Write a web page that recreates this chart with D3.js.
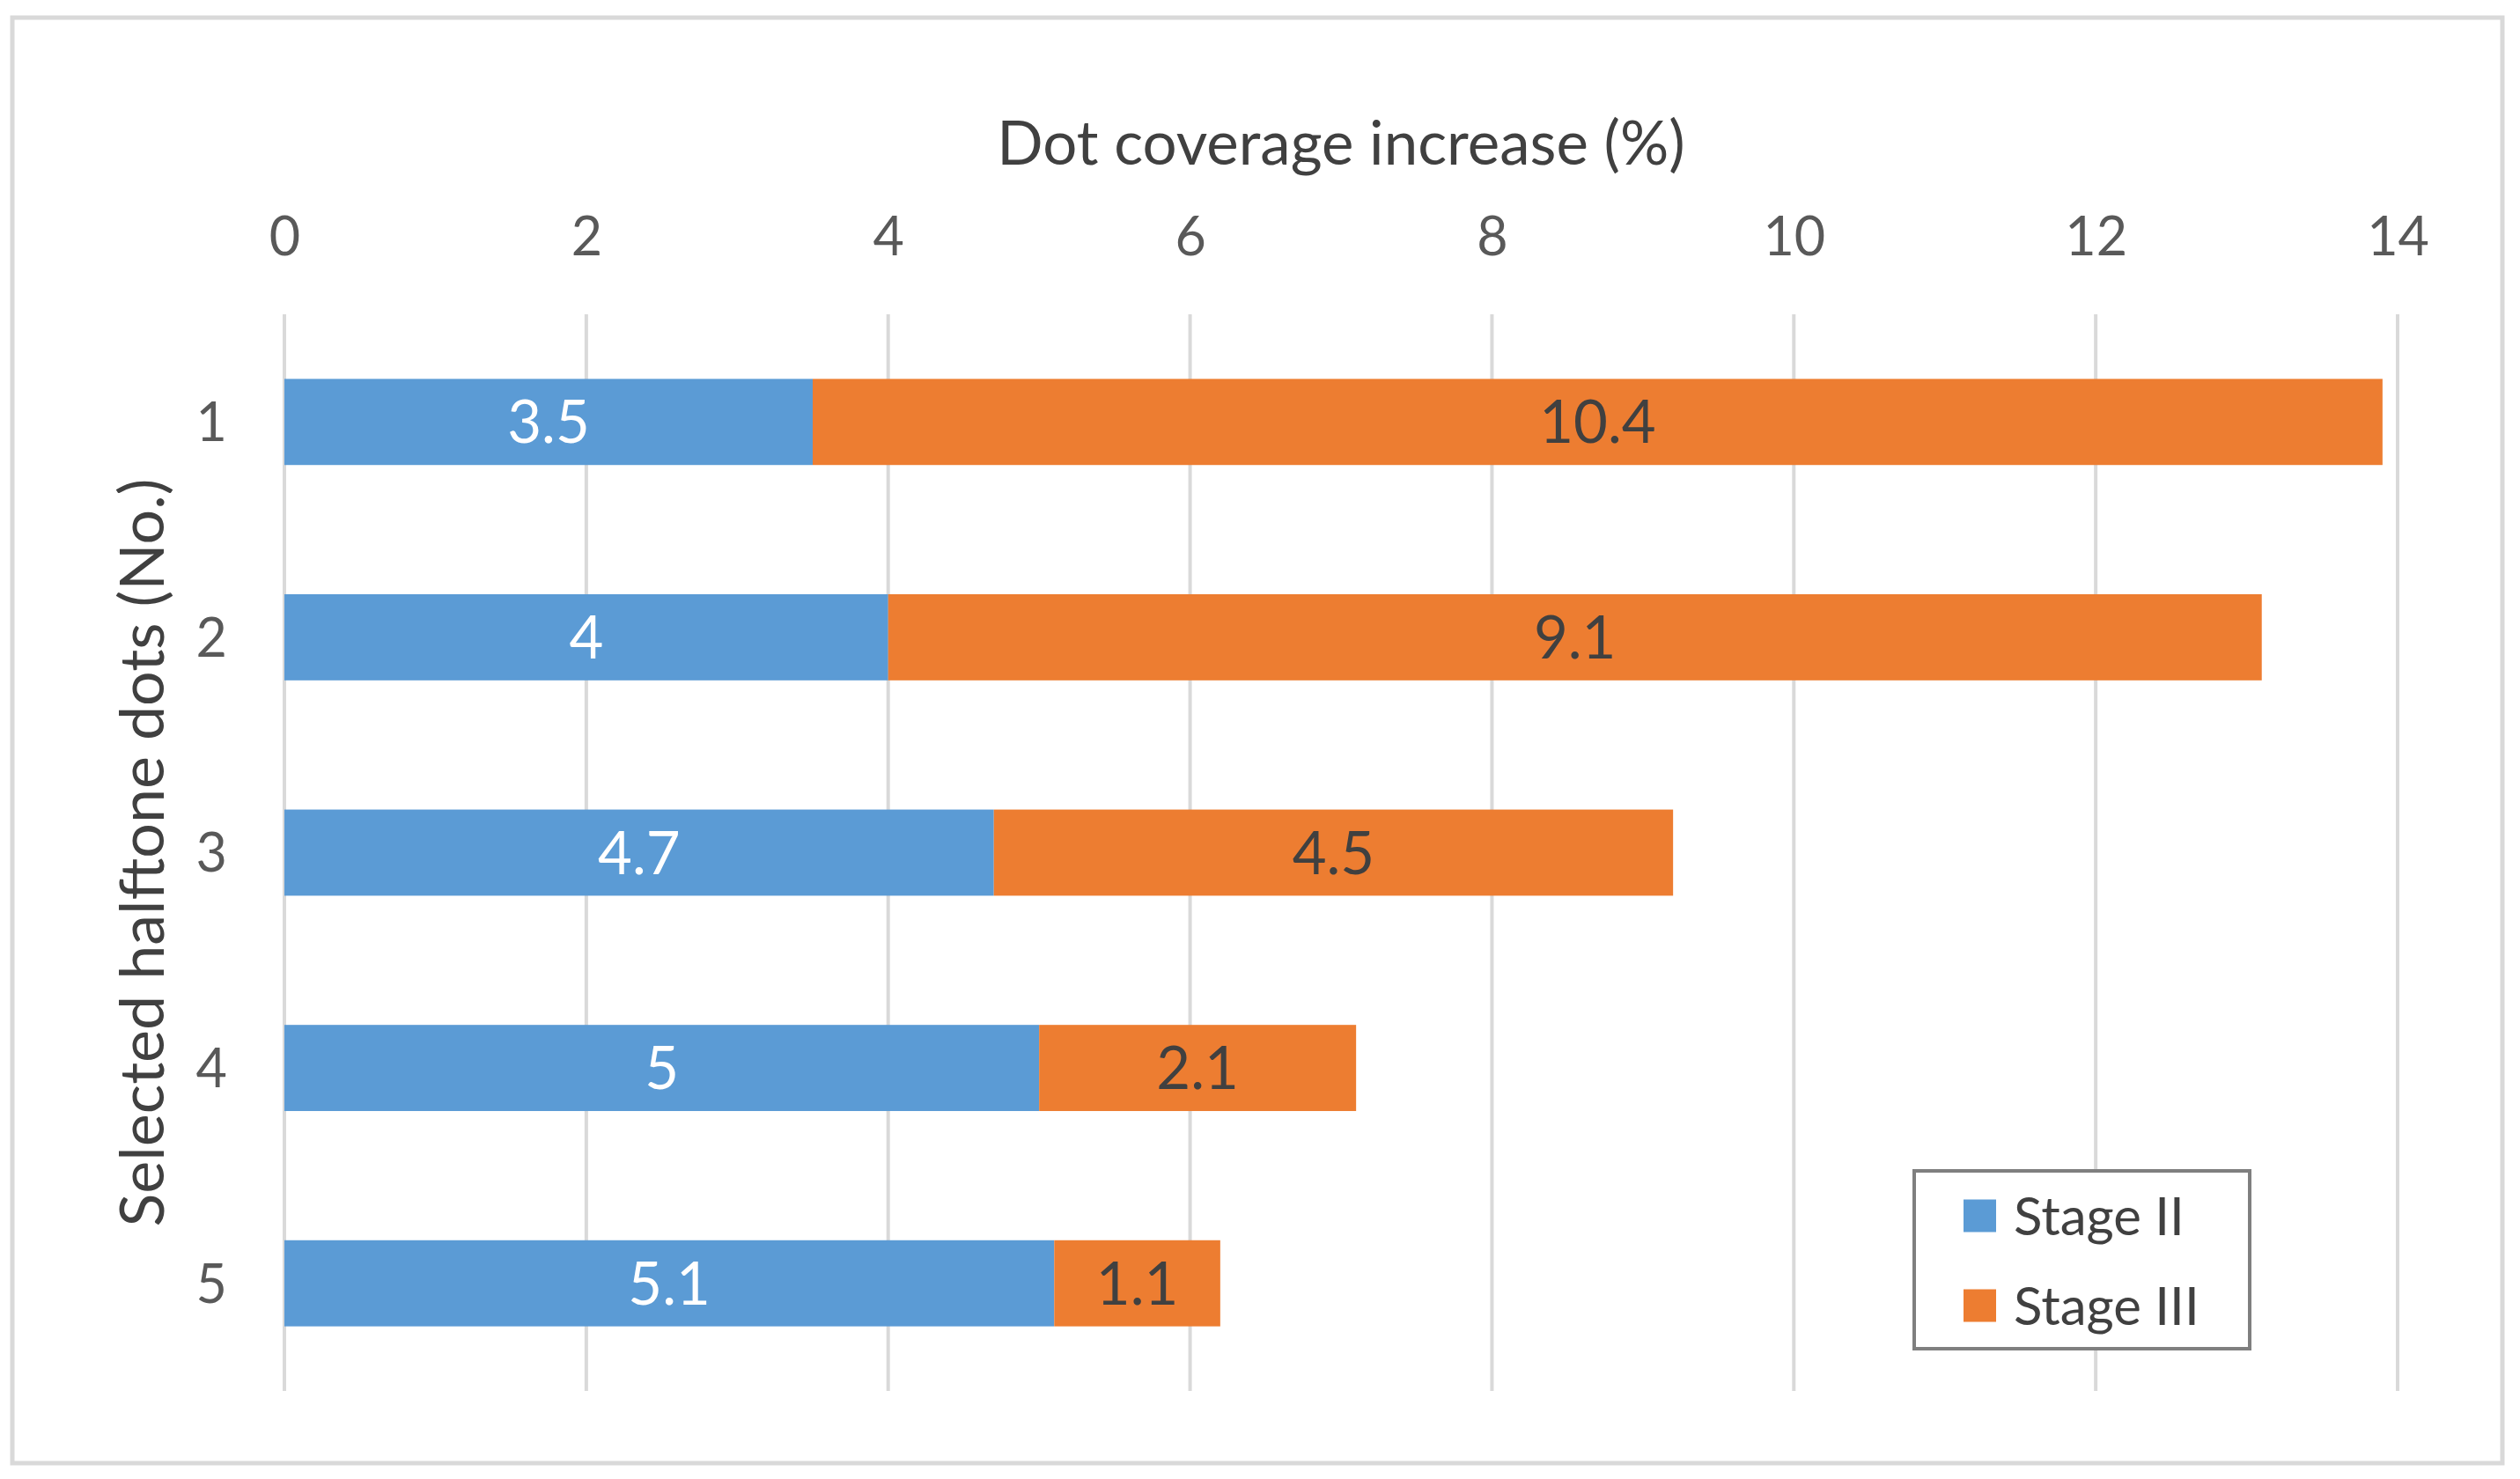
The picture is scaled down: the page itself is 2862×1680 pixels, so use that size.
<!DOCTYPE html>
<html>
<head>
<meta charset="utf-8">
<script src="https://cdn.jsdelivr.net/npm/d3@7"></script>
<style>
  body { margin: 0; background: #fff; }
  text { font-family: Lato, "Open Sans", sans-serif; }
</style>
</head>
<body>
<div id="chart"></div>
<script>
  // chart data
  const categories = ["1", "2", "3", "4", "5"];
  const seriesNames = ["Stage II", "Stage III"];
  const stage2 = [3.5, 4, 4.7, 5, 5.1];
  const stage3 = [10.4, 9.1, 4.5, 2.1, 1.1];
  const xTicks = [0, 2, 4, 6, 8, 10, 12, 14];

  const colors = ["#5B9BD5", "#ED7D31"];
  const labelColors = ["#ffffff", "#404040"];

  const svgWidth = 2862;
  const svgHeight = 1680;
  const plot = { left: 323, right: 2723, top: 357, bottom: 1580 };

  const svg = d3.select("#chart")
    .append("svg")
    .attr("width", svgWidth)
    .attr("height", svgHeight);

  // outer frame
  svg.append("rect")
    .attr("x", 14)
    .attr("y", 20)
    .attr("width", 2828)
    .attr("height", 1642)
    .attr("fill", "#fff")
    .attr("stroke", "#d9d9d9")
    .attr("stroke-width", 5);

  // scales
  const xScale = d3.scaleLinear()
    .domain([0, 14])
    .range([plot.left, plot.right]);

  const yScale = d3.scaleBand()
    .domain(categories)
    .range([plot.top, plot.bottom])
    .paddingInner(0.6)
    .paddingOuter(0.3);

  // gridlines
  svg.append("g")
    .selectAll("line")
    .data(xTicks)
    .enter()
    .append("line")
    .attr("x1", d => xScale(d))
    .attr("x2", d => xScale(d))
    .attr("y1", plot.top)
    .attr("y2", plot.bottom)
    .attr("stroke", "#d9d9d9")
    .attr("stroke-width", 4);

  // x axis on top
  const xAxis = svg.append("g")
    .attr("transform", "translate(0, 290)")
    .call(d3.axisTop(xScale).tickValues(xTicks).tickSize(0).tickPadding(0));
  xAxis.select(".domain").remove();
  xAxis.selectAll("text")
    .style("font-size", "61px")
    .style("fill", "#595959")
    .attr("dy", 0);

  // y axis (categories)
  const yAxis = svg.append("g")
    .attr("transform", "translate(258, 0)")
    .call(d3.axisLeft(yScale).tickSize(0).tickPadding(0));
  yAxis.select(".domain").remove();
  yAxis.selectAll("text")
    .style("font-size", "61px")
    .style("fill", "#595959")
    .attr("dy", "0.36em");

  // stacked bars
  const table = categories.map((c, i) => ({ cat: c, "Stage II": stage2[i], "Stage III": stage3[i] }));
  const stacked = d3.stack().keys(seriesNames)(table);

  const layers = svg.append("g")
    .selectAll("g")
    .data(stacked)
    .enter()
    .append("g")
    .attr("fill", (d, i) => colors[i]);

  layers.selectAll("rect")
    .data(d => d)
    .enter()
    .append("rect")
    .attr("x", d => xScale(d[0]))
    .attr("y", d => yScale(d.data.cat))
    .attr("width", d => xScale(d[1]) - xScale(d[0]))
    .attr("height", yScale.bandwidth());

  // data labels
  stacked.forEach((layer, i) => {
    svg.append("g")
      .selectAll("text")
      .data(layer)
      .enter()
      .append("text")
      .attr("x", d => (xScale(d[0]) + xScale(d[1])) / 2)
      .attr("y", d => yScale(d.data.cat) + yScale.bandwidth() / 2)
      .attr("dy", "0.36em")
      .attr("text-anchor", "middle")
      .style("font-size", "67px")
      .style("fill", labelColors[i])
      .text(d => +(d[1] - d[0]).toFixed(1));
  });

  // axis titles
  svg.append("text")
    .attr("x", (plot.left + plot.right) / 2)
    .attr("y", 187)
    .attr("text-anchor", "middle")
    .style("font-size", "69px")
    .style("fill", "#404040")
    .text("Dot coverage increase (%)");

  svg.append("text")
    .attr("transform", `translate(186, ${(plot.top + plot.bottom) / 2}) rotate(-90)`)
    .attr("text-anchor", "middle")
    .style("font-size", "70px")
    .style("fill", "#404040")
    .text("Selected halftone dots (No.)");

  // legend
  const legend = svg.append("g");
  legend.append("rect")
    .attr("x", 2174)
    .attr("y", 1330)
    .attr("width", 381)
    .attr("height", 202)
    .attr("fill", "#fff")
    .attr("stroke", "#7f7f7f")
    .attr("stroke-width", 4);

  const items = legend.selectAll("g.item")
    .data(seriesNames)
    .enter()
    .append("g")
    .attr("class", "item")
    .attr("transform", (d, i) => `translate(2230, ${1381 + i * 102})`);

  items.append("rect")
    .attr("x", 0)
    .attr("y", -18.5)
    .attr("width", 37)
    .attr("height", 37)
    .attr("fill", (d, i) => colors[i]);

  items.append("text")
    .attr("x", 57)
    .attr("dy", "0.36em")
    .style("font-size", "60px")
    .style("fill", "#404040")
    .text(d => d);
</script>
</body>
</html>
